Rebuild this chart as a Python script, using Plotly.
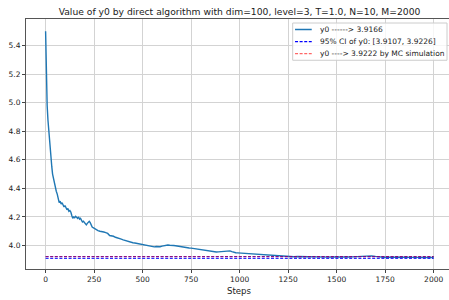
import plotly.graph_objects as go

steps = [0, 2, 5, 8, 12, 16, 20, 24, 28, 32, 36, 40, 45, 50, 55, 60, 65, 70, 75, 80,
         85, 90, 95, 100, 105, 110, 115, 120, 125, 130, 135, 140, 145, 150, 155, 160,
         165, 170, 175, 180, 185, 190, 195, 200, 205, 210, 215, 220, 225, 230, 235,
         240, 245, 250, 260, 270, 280, 290, 300, 310, 320, 330, 340, 350, 360, 370,
         380, 390, 400, 410, 420, 430, 440, 450, 460, 470, 480, 490, 500, 510, 520,
         530, 540, 550, 560, 570, 580, 590, 600, 610, 620, 630, 640, 650, 660, 670,
         680, 690, 700, 710, 720, 730, 740, 750, 760, 770, 780, 790, 800, 810, 820,
         830, 840, 850, 860, 870, 880, 890, 900, 910, 920, 930, 940, 950, 960, 970,
         980, 990, 1000, 1020, 1040, 1060, 1080, 1100, 1120, 1140, 1160, 1180, 1200,
         1220, 1240, 1260, 1280, 1300, 1320, 1340, 1360, 1380, 1400, 1420, 1440, 1460,
         1480, 1500, 1520, 1540, 1560, 1580, 1600, 1620, 1640, 1660, 1680, 1700, 1720,
         1740, 1760, 1780, 1800, 1850, 1900, 1950, 2000]
y0_values = [5.50, 5.30, 5.10, 4.98, 4.88, 4.80, 4.74, 4.68, 4.60, 4.55, 4.50, 4.47,
             4.44, 4.42, 4.38, 4.36, 4.33, 4.30, 4.31, 4.29, 4.30, 4.28, 4.27, 4.28,
             4.26, 4.25, 4.26, 4.24, 4.245, 4.235, 4.21, 4.19, 4.20, 4.195, 4.205, 4.20,
             4.19, 4.20, 4.185, 4.19, 4.17, 4.165, 4.17, 4.16, 4.15, 4.145, 4.155, 4.165,
             4.17, 4.16, 4.14, 4.13, 4.125, 4.12, 4.11, 4.105, 4.10, 4.10, 4.095, 4.09,
             4.085, 4.07, 4.068, 4.065, 4.058, 4.055, 4.05, 4.045, 4.04, 4.035, 4.032,
             4.028, 4.025, 4.02, 4.018, 4.015, 4.01, 4.008, 4.006, 4.002, 3.998, 3.995,
             3.993, 3.992, 3.991, 3.993, 3.990, 3.992, 3.996, 4.000, 4.003, 4.004, 4.002,
             4.003, 4.000, 3.999, 3.996, 3.993, 3.990, 3.988, 3.986, 3.984, 3.983, 3.982,
             3.980, 3.978, 3.976, 3.972, 3.970, 3.970, 3.967, 3.963, 3.960, 3.958, 3.957,
             3.956, 3.955, 3.956, 3.957, 3.958, 3.959, 3.960, 3.962, 3.963, 3.958, 3.953,
             3.950, 3.949, 3.948, 3.946, 3.945, 3.944, 3.943, 3.938, 3.935, 3.933, 3.932,
             3.931, 3.930, 3.928, 3.924, 3.923, 3.922, 3.923, 3.922, 3.924, 3.925, 3.924,
             3.922, 3.920, 3.919, 3.919, 3.920, 3.919, 3.920, 3.921, 3.920, 3.921, 3.923,
             3.925, 3.927, 3.929, 3.928, 3.924, 3.920, 3.918, 3.918, 3.919, 3.918, 3.918,
             3.917, 3.917, 3.9166]

ci_low = 3.9107
ci_high = 3.9226
mc_value = 3.9222
x_span = [0, 2000]

title_text = "Value of y0 by direct algorithm with dim=100, level=3, T=1.0, N=10, M=2000"
legend_labels = ["y0 ------> 3.9166",
                 "95% CI of y0: [3.9107, 3.9226]",
                 "y0 ----> 3.9222 by MC simulation"]
x_ticks = [0, 250, 500, 750, 1000, 1250, 1500, 1750, 2000]
y_ticks = [4.0, 4.2, 4.4, 4.6, 4.8, 5.0, 5.2, 5.4]

font = "DejaVu Sans"
txt = "#222"
main_color = "#1f77b4"
ci_color = "blue"
mc_color = "rgba(255,0,0,0.6)"
dash = "3px,1.6px"

fig = go.Figure()
fig.add_trace(go.Scatter(x=steps, y=y0_values, mode="lines",
                         line=dict(color=main_color, width=1.4),
                         name=legend_labels[0], showlegend=False))
fig.add_trace(go.Scatter(x=x_span, y=[ci_low, ci_low], mode="lines",
                         line=dict(color=ci_color, width=1, dash=dash),
                         name=legend_labels[1], showlegend=False))
fig.add_trace(go.Scatter(x=x_span, y=[ci_high, ci_high], mode="lines",
                         line=dict(color=ci_color, width=1, dash=dash),
                         showlegend=False))
fig.add_trace(go.Scatter(x=x_span, y=[mc_value, mc_value], mode="lines",
                         line=dict(color=mc_color, width=1, dash=dash),
                         name=legend_labels[2], showlegend=False))

# manual compact legend (matplotlib style)
shapes = [dict(type="rect", xref="paper", yref="paper", x0=0.6305, x1=0.9953,
               y0=0.835, y1=0.984, fillcolor="rgba(255,255,255,0.8)",
               line=dict(color="#cccccc", width=1), layer="above")]
annotations = []
legend_rows = [0.958, 0.9096, 0.8614]
legend_styles = [dict(color=main_color, width=1.5),
                 dict(color=ci_color, width=1.2, dash=dash),
                 dict(color=mc_color, width=1.2, dash=dash)]
for label, yrow, style in zip(legend_labels, legend_rows, legend_styles):
    shapes.append(dict(type="line", xref="paper", yref="paper", x0=0.636, x1=0.6755,
                       y0=yrow, y1=yrow, line=style, layer="above"))
    annotations.append(dict(text=label, xref="paper", yref="paper", x=0.6896, y=yrow,
                            xanchor="left", yanchor="middle", showarrow=False,
                            font=dict(family=font, size=7.5, color=txt)))
annotations.append(dict(text="Steps", xref="paper", yref="paper", x=0.504, y=-0.088,
                        xanchor="center", yanchor="middle", showarrow=False,
                        font=dict(family=font, size=8.6, color=txt)))

fig.update_layout(
    width=449, height=300,
    margin=dict(l=26, r=0, t=19, b=31, autoexpand=False),
    paper_bgcolor="white", plot_bgcolor="white",
    font=dict(family=font, color=txt, size=7.5),
    title=dict(text=title_text, xref="container", x=0.5334, xanchor="center",
               yref="container", y=0.96, yanchor="middle", automargin=False,
               font=dict(family=font, size=9.2, color=txt)),
    showlegend=False,
    shapes=shapes,
    annotations=annotations,
    xaxis=dict(range=[-101, 2079], tickvals=x_ticks, ticks="outside", ticklen=3,
               tickcolor="#444", showgrid=True, gridcolor="#d3d3d3", gridwidth=1,
               zeroline=False, showline=True, linecolor="#555", linewidth=1, mirror=True,
               automargin=False,
               tickfont=dict(family=font, size=7.5, color=txt)),
    yaxis=dict(range=[3.836, 5.585], tickvals=y_ticks, tickformat=".1f", ticks="outside",
               ticklen=3, tickcolor="#444", showgrid=True, gridcolor="#d3d3d3",
               gridwidth=1, zeroline=False, showline=True, linecolor="#555",
               linewidth=1, mirror=True, automargin=False,
               tickfont=dict(family=font, size=7.5, color=txt)),
)

fig.write_html("out.html", config={"displayModeBar": False},
               post_script="document.body.style.margin='0';document.body.style.padding='0';")
